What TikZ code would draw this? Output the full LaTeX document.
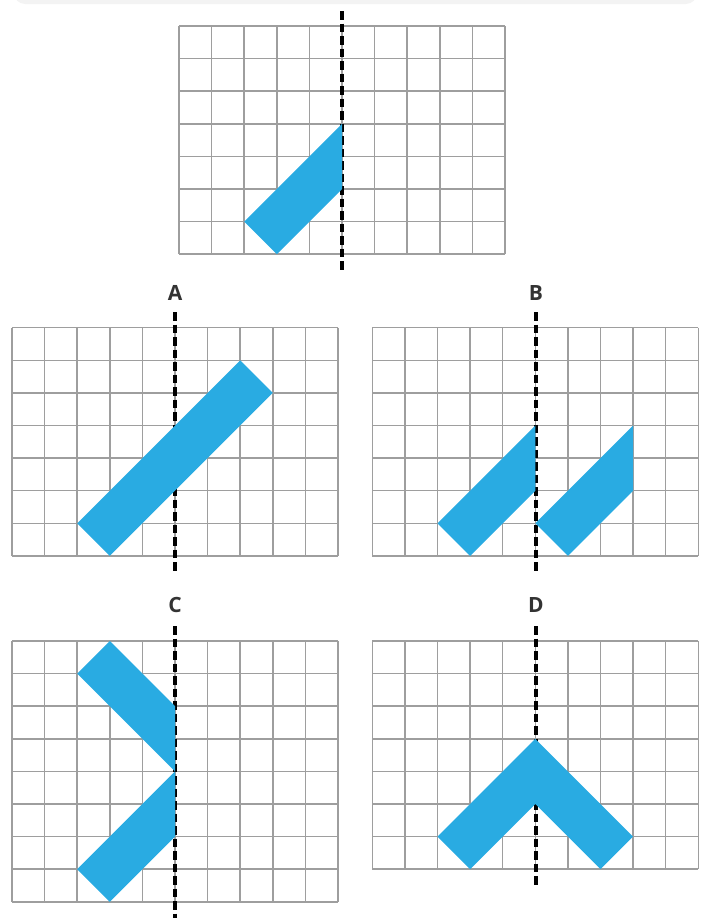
\documentclass[tikz,border=0pt]{standalone}
\usepackage{fontspec}
\setmainfont{Open Sans}
\definecolor{shapeblue}{RGB}{41,171,226}
\definecolor{gridgray}{RGB}{158,158,158}
\definecolor{lblgray}{RGB}{51,51,51}
\definecolor{barbg}{RGB}{243,243,243}
\tikzset{
  gridline/.style={draw=gridgray, line width=1.5pt},
  axisline/.style={draw=black, line width=3.2pt, dash pattern=on 8.5pt off 4pt},
  blueshape/.style={fill=shapeblue, draw=none},
  lbl/.style={font=\fontsize{21}{21}\selectfont\bfseries, text=lblgray, inner sep=0pt},
}
\newcommand{\mygrid}[2]{%
  \foreach \i in {0,...,#1} \draw[gridline] (\i,0) -- (\i,#2);
  \foreach \j in {0,...,#2} \draw[gridline] (0,\j) -- (#1,\j);
}
\begin{document}
\begin{tikzpicture}[x=1pt,y=-1pt]
\useasboundingbox (0,0) rectangle (708,918);
\clip (0,0) rectangle (708,918);
\fill[barbg, rounded corners=11pt] (14,-30) rectangle (697,4);

% ---------- top figure ----------
\begin{scope}[shift={(179,26)}, x=32.6pt, y=-32.6pt]
  \mygrid{10}{7}
\end{scope}
\coordinate (t1) at (342,11);
\coordinate (t2) at (342,271);
\draw[axisline] (t1) -- (t2);
\begin{scope}[shift={(179,26)}, x=32.6pt, y=-32.6pt]
  \fill[blueshape] (2,6) -- (5,3) -- (5,5) -- (3,7) -- cycle;
\end{scope}

% ---------- A ----------
\node[lbl] (la) at (175,293) {A};
\begin{scope}[shift={(12,327.7)}, x=32.6pt, y=-32.6pt]
  \mygrid{10}{7}
\end{scope}
\coordinate (a1) at (175,312);
\coordinate (a2) at (175,572);
\draw[axisline] (a1) -- (a2);
\begin{scope}[shift={(12,327.7)}, x=32.6pt, y=-32.6pt]
  \fill[blueshape] (2,6) -- (7,1) -- (8,2) -- (3,7) -- cycle;
\end{scope}

% ---------- B ----------
\node[lbl] (lb) at (536,293) {B};
\begin{scope}[shift={(372.3,327.7)}, x=32.6pt, y=-32.6pt]
  \mygrid{10}{7}
\end{scope}
\coordinate (b1) at (536,312);
\coordinate (b2) at (536,572);
\draw[axisline] (b1) -- (b2);
\begin{scope}[shift={(372.3,327.7)}, x=32.6pt, y=-32.6pt]
  \fill[blueshape] (2,6) -- (5,3) -- (5,5) -- (3,7) -- cycle;
  \fill[blueshape] (5,6) -- (8,3) -- (8,5) -- (6,7) -- cycle;
\end{scope}

% ---------- C ----------
\node[lbl] (lc) at (175,605) {C};
\begin{scope}[shift={(12,641)}, x=32.6pt, y=-32.6pt]
  \mygrid{10}{8}
\end{scope}
\coordinate (c1) at (175,626);
\coordinate (c2) at (175,920);
\draw[axisline] (c1) -- (c2);
\begin{scope}[shift={(12,641)}, x=32.6pt, y=-32.6pt]
  \fill[blueshape] (3,0) -- (5,2) -- (5,4) -- (2,1) -- cycle;
  \fill[blueshape] (5,4) -- (5,6) -- (3,8) -- (2,7) -- cycle;
\end{scope}

% ---------- D ----------
\node[lbl] (ld) at (536,605) {D};
\begin{scope}[shift={(372.3,641)}, x=32.6pt, y=-32.6pt]
  \mygrid{10}{7}
\end{scope}
\coordinate (d1) at (536,626);
\coordinate (d2) at (536,885);
\draw[axisline] (d1) -- (d2);
\begin{scope}[shift={(372.3,641)}, x=32.6pt, y=-32.6pt]
  \fill[blueshape] (2,6) -- (5,3) -- (8,6) -- (7,7) -- (5,5) -- (3,7) -- cycle;
\end{scope}
\end{tikzpicture}
\end{document}
